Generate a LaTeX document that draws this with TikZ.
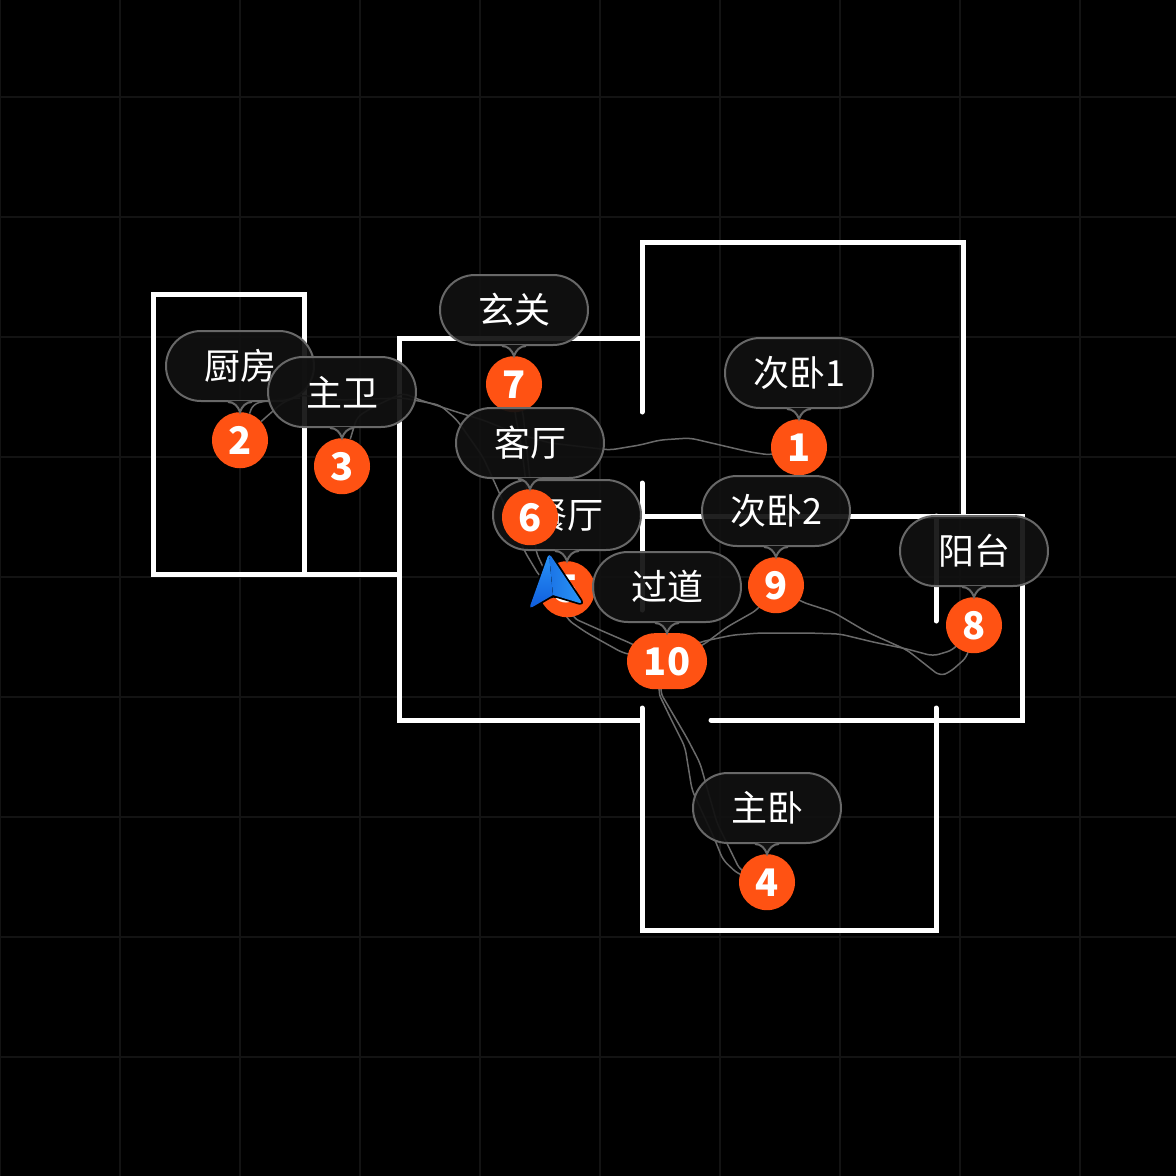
\documentclass[tikz,border=0pt]{standalone}
\usepackage{fontspec}
\setmainfont{Noto Sans CJK SC}
\usetikzlibrary{positioning}
\usetikzlibrary{shapes.misc}
\usetikzlibrary{backgrounds}
\definecolor{tagfill}{HTML}{111111}
\definecolor{tagline}{HTML}{686868}
\definecolor{markfill}{HTML}{FF5213}
\definecolor{gridcol}{HTML}{131313}
\definecolor{trailcol}{HTML}{6A6A6A}
\definecolor{arrowlight}{HTML}{2A96F8}
\definecolor{arrowmid}{HTML}{1B74E6}
\definecolor{arrowdark}{HTML}{0F5CDC}
\tikzset{
    wall/.style = {draw=white,line width=5pt,line cap=round,line join=miter},
    gridline/.style = {draw=gridcol,line width=2pt},
    trail/.style = {draw=trailcol,line width=1.5pt,rounded corners=6pt},
    bubble/.style = {rounded rectangle,draw=tagline,line width=2pt,fill=tagfill,fill opacity=.93,text opacity=1,text=white,
        minimum width=148pt,minimum height=70pt,inner sep=0pt,font=\fontsize{36}{42}\selectfont},
    marker/.style = {circle,fill=markfill,text=white,minimum size=56pt,inner sep=0pt,font=\fontsize{38}{44}\selectfont\bfseries},
    widemarker/.style = {marker,rounded rectangle,minimum width=80pt,minimum height=56pt}}
\newcommand{\tailmark}[2]{
    \fill[tagfill] ([xshift=-12pt,yshift=1.2pt]#1.south) to [out=0,in=110] (#2.north) to [out=70,in=180] ([xshift=12pt,yshift=1.2pt]#1.south) -- cycle;
    \draw[tagline,line width=2pt] ([xshift=-12pt]#1.south) to [out=0,in=110] (#2.north) to [out=70,in=180] ([xshift=12pt]#1.south);}

\begin{document}
\begin{tikzpicture}[x=1pt,y=-1pt]
        \useasboundingbox (0,0) rectangle (1176,1176);

        % room tags, bottom of the pile first
        \node[bubble] (kitchen) at (240,366) {厨房};
        \node[marker,below=10pt of kitchen] (m2) {2};
        \tailmark{kitchen}{m2}
        \node[bubble] (bath) at (342,392) {主卫};
        \node[marker,below=10pt of bath] (m3) {3};
        \tailmark{bath}{m3}
        \node[bubble] (hall) at (514,310) {玄关};
        \node[marker,below=10pt of hall] (m7) {7};
        \tailmark{hall}{m7}
        \node[bubble] (bed1) at (799,373) {次卧1};
        \node[marker,below=10pt of bed1] (m1) {1};
        \tailmark{bed1}{m1}
        \node[bubble] (dining) at (567,515) {餐厅};
        \node[marker,below=10pt of dining] (m5) {5};
        \tailmark{dining}{m5}
        \node[bubble] (living) at (530,443) {客厅};
        \node[marker,below=10pt of living] (m6) {6};
        \tailmark{living}{m6}
        \node[bubble] (bed2) at (776,511) {次卧2};
        \node[marker,below=10pt of bed2] (m9) {9};
        \tailmark{bed2}{m9}
        \node[bubble] (corridor) at (667,587) {过道};
        \node[widemarker,below=10pt of corridor] (m10) {10};
        \tailmark{corridor}{m10}
        \node[bubble] (balcony) at (974,551) {阳台};
        \node[marker,below=10pt of balcony] (m8) {8};
        \tailmark{balcony}{m8}
        \node[bubble] (master) at (767,808) {主卧};
        \node[marker,below=10pt of master] (m4) {4};
        \tailmark{master}{m4}

        % heading arrow
        \path (549,553) coordinate (tip) (529,609) coordinate (tipl) (553,595) coordinate (tipn) (583,604) coordinate (tipr);
        \draw[black,line width=3.5pt,line join=round,fill=black,rounded corners=4pt] (tip) -- (tipl) -- (tipn) -- (tipr) -- cycle;
        \begin{scope}
        \clip[rounded corners=4pt] (tip) -- (tipl) -- (tipn) -- (tipr) -- cycle;
        \fill[top color=arrowlight,bottom color=arrowdark] (tip) -- (tipl) -- (tipn) -- cycle;
        \fill[left color=arrowmid,right color=arrowlight] (tip) -- (tipn) -- (tipr) -- cycle;
        \end{scope}

        \begin{scope}[on background layer]
        \fill[black] (0,0) rectangle (1176,1176);
        \foreach \gx in {0,120,...,1080} \draw[gridline] (\gx,0) -- (\gx,1176);
        \foreach \gy in {97,217,...,1057} \draw[gridline] (0,\gy) -- (1176,\gy);

        % walls
        \draw[wall] (304,574) -- (153,574) -- (153,294) -- (304,294) -- (304,574) -- (399,574);
        \draw[wall] (642,338) -- (399,338) -- (399,720) -- (642,720);
        \draw[wall] (642,412) -- (642,242) -- (963,242) -- (963,516);
        \draw[wall] (642,483) -- (642,610);
        \draw[wall] (642,516) -- (1022,516) -- (1022,720) -- (711,720);
        \draw[wall] (936,516) -- (936,621);
        \draw[wall] (642,708) -- (642,930) -- (936,930) -- (936,708);

        % walked trails
        \draw[trail] (m1) -- (770,455) -- (750,452) -- (720,445) -- (690,438) -- (660,440) -- (640,445) -- (610,450) -- (550,443) -- (515,433) -- (483,420) -- (460,413) -- (420,400) -- (403,393) -- (373,407) -- (357,417) -- (m3);
        \draw[trail] (m2) -- (282,403) -- (300,395) -- (340,400) -- (403,398) -- (440,405) -- (457,420) -- (483,457) -- (498,490) -- (525,552) -- (540,577) -- (m5);
        \draw[trail] (m2) -- (253,404) -- (270,400) -- (300,398);
        \draw[trail] (m7) -- (515,413) -- (522,450) -- (m6);
        \draw[trail] (m7) -- (523,413) -- (530,480) -- (536,552) -- (568,620) -- (587,633) -- (623,653) -- (m10);
        \draw[trail] (m5) -- (573,618) -- (600,630) -- (630,643) -- (m10);
        \draw[trail] (m10) -- (703,645) -- (727,627) -- (757,610) -- (m9);
        \draw[trail] (m10) -- (700,642) -- (733,635) -- (760,633) -- (807,633) -- (840,634) -- (873,642) -- (907,649) -- (933,656) -- (953,650) -- (m8);
        \draw[trail] (m9) -- (802,602) -- (833,612) -- (867,632) -- (907,650) -- (940,676) -- (950,672) -- (967,657) -- (m8);
        \draw[trail] (m10) -- (658,692) -- (670,717) -- (685,747) -- (692,790) -- (715,840) -- (723,860) -- (738,874) -- (m4);
        \draw[trail] (m10) -- (660,692) -- (687,738) -- (700,763) -- (717,823) -- (740,870) -- (m4);
        \end{scope}
\end{tikzpicture}
\end{document}
